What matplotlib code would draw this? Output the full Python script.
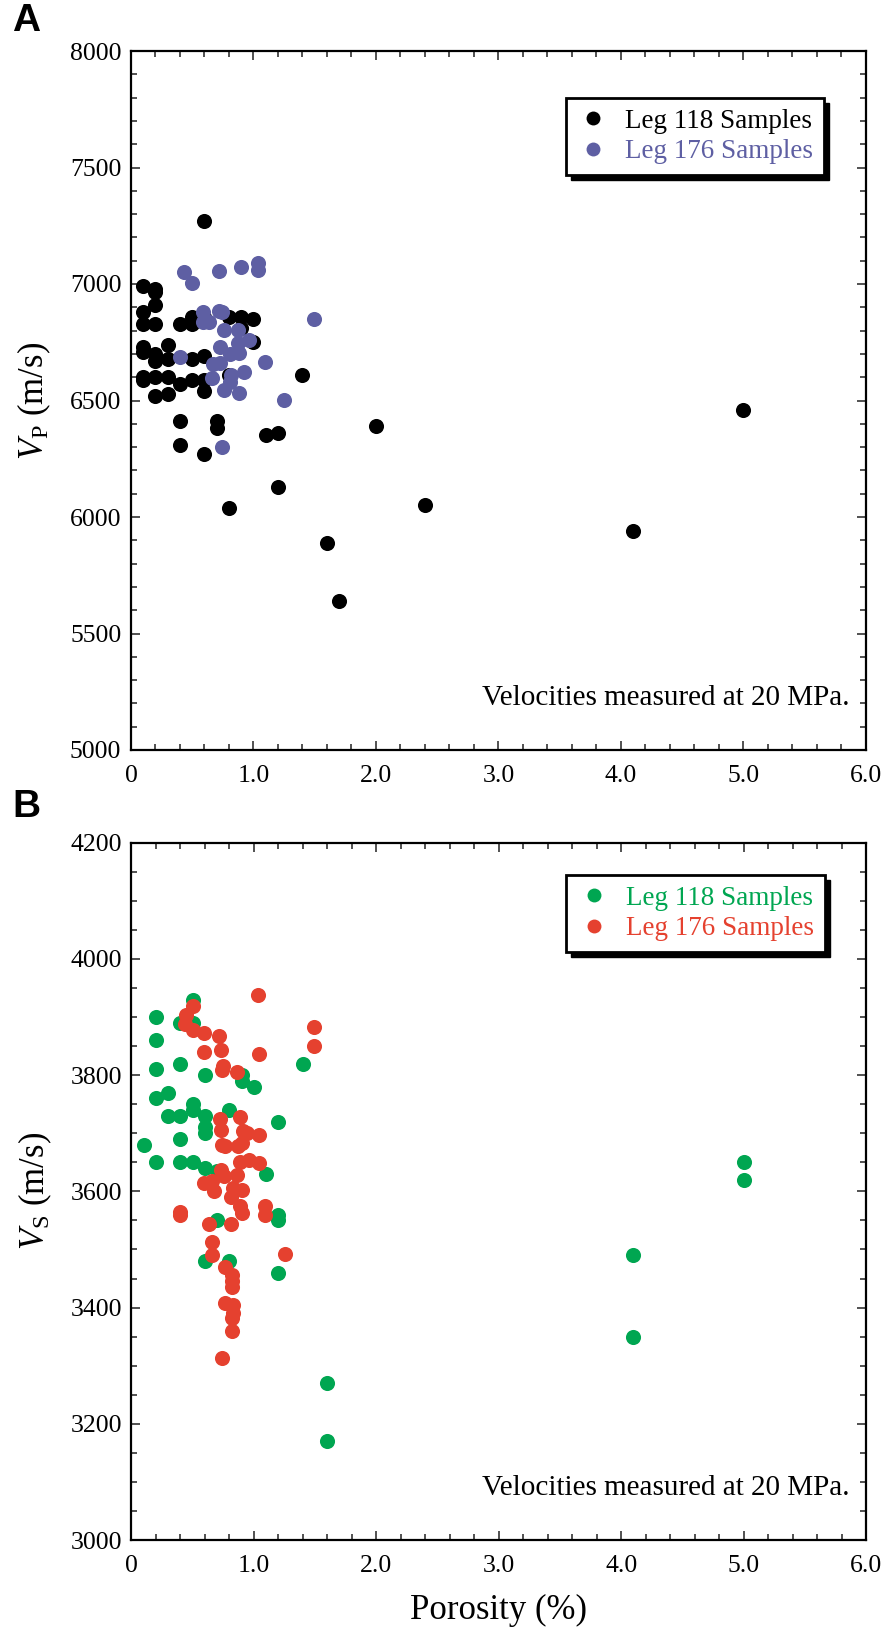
import matplotlib
matplotlib.use("Agg")
import matplotlib.pyplot as plt
from matplotlib.patches import Rectangle
from matplotlib.ticker import MultipleLocator, FixedLocator
from matplotlib.lines import Line2D

plt.rcParams['font.family'] = ['Liberation Serif', 'DejaVu Serif']
plt.rcParams['mathtext.fontset'] = 'custom'
plt.rcParams['mathtext.rm'] = 'Liberation Serif'
plt.rcParams['mathtext.it'] = 'Liberation Serif:italic'

# ---------------- data ----------------
por_118_A = [0.6, 0.1, 0.2, 0.2, 0.2, 0.1, 0.1, 0.2, 0.4, 0.5, 0.5, 0.6, 0.8, 0.9, 1.0, 0.9,
             1.0, 0.1, 0.1, 0.2, 0.2, 0.3, 0.3, 0.5, 0.6, 0.1, 0.1, 1.4, 0.2, 0.3, 0.4, 0.5,
             0.6, 0.6, 0.8, 0.2, 0.3, 0.4, 0.7, 0.7, 1.1, 1.2, 2.0, 0.4, 0.6, 1.2, 0.8, 1.6,
             1.7, 2.4, 4.1, 5.0]
vp_118 = [7270, 6990, 6980, 6965, 6910, 6880, 6830, 6830, 6830, 6860, 6830, 6860, 6860, 6860, 6850, 6810,
          6750, 6730, 6710, 6700, 6670, 6740, 6680, 6680, 6690, 6600, 6590, 6610, 6600, 6600, 6570, 6590,
          6590, 6540, 6610, 6520, 6530, 6410, 6410, 6380, 6350, 6360, 6390, 6310, 6270, 6130, 6040, 5890,
          5640, 6050, 5940, 6460]

por_176_A = [0.43, 0.5, 0.72, 0.9, 1.04, 1.04, 0.59, 0.72, 0.74, 0.59, 0.64, 0.76, 0.87, 0.87, 0.96,
             0.73, 0.81, 0.88, 1.49, 0.4, 0.67, 0.73, 1.09, 0.66, 0.82, 0.92, 0.76, 0.88, 0.81, 1.25, 0.74]
vp_176 = [7050, 7005, 7057, 7075, 7090, 7060, 6880, 6886, 6880, 6838, 6838, 6803, 6803, 6746, 6760,
          6731, 6700, 6703, 6849, 6685, 6655, 6662, 6667, 6597, 6609, 6624, 6545, 6533, 6580, 6502, 6302]

por_118_B = [0.5, 0.2, 0.4, 0.5, 0.2, 0.4, 0.2, 0.6, 0.9, 0.9, 1.0, 1.4, 0.2, 0.3, 0.3, 0.4,
             0.5, 0.5, 0.6, 0.6, 0.6, 0.8, 1.2, 0.1, 0.2, 0.4, 0.5, 0.4, 0.6, 1.1, 0.7, 1.2,
             1.2, 0.7, 0.6, 0.8, 1.2, 1.6, 1.6, 5.0, 5.0, 4.1, 4.1]
vs_118 = [3930, 3900, 3890, 3890, 3860, 3820, 3810, 3800, 3800, 3790, 3780, 3820, 3760, 3770, 3730, 3730,
          3750, 3740, 3730, 3710, 3700, 3740, 3720, 3680, 3650, 3650, 3650, 3690, 3640, 3630, 3635, 3560,
          3550, 3550, 3480, 3480, 3460, 3270, 3170, 3650, 3620, 3490, 3350]

por_176_B = [1.035, 0.505, 0.445, 0.44, 0.5, 0.594, 0.717, 0.73, 0.594, 1.04, 1.49, 1.49, 0.75, 0.74,
             0.86, 0.72, 0.89, 0.73, 0.91, 0.94, 1.04, 0.74, 0.76, 0.87, 0.90, 0.89, 0.96, 1.04,
             0.73, 0.755, 0.86, 0.59, 0.66, 0.67, 0.83, 0.90, 0.81, 0.89, 0.90, 1.09, 1.09, 0.40,
             0.40, 0.635, 0.81, 0.66, 0.66, 1.25, 0.76, 0.82, 0.82, 0.82, 0.76, 0.83, 0.83, 0.82,
             0.82, 0.74]
vs_176 = [3938, 3919, 3903, 3888, 3878, 3872, 3867, 3843, 3839, 3836, 3882, 3850, 3815, 3809,
          3806, 3724, 3728, 3706, 3704, 3700, 3697, 3680, 3678, 3678, 3683, 3651, 3654, 3649,
          3637, 3626, 3628, 3614, 3617, 3601, 3605, 3602, 3590, 3575, 3562, 3575, 3559, 3565,
          3559, 3543, 3543, 3512, 3490, 3492, 3470, 3456, 3445, 3436, 3408, 3404, 3390, 3382,
          3360, 3313]

x_ticks = [0, 1, 2, 3, 4, 5, 6]
x_ticklabels = ['0', '1.0', '2.0', '3.0', '4.0', '5.0', '6.0']
yA_ticks = [5000, 5500, 6000, 6500, 7000, 7500, 8000]
yB_ticks = [3000, 3200, 3400, 3600, 3800, 4000, 4200]

labels_A = ['Leg 118 Samples', 'Leg 176 Samples']
labels_B = ['Leg 118 Samples', 'Leg 176 Samples']
note = 'Velocities measured at 20 MPa.'

# ---------------- style ----------------
c_black = '#000000'
c_blue = '#5E5FA3'
c_green = '#00A651'
c_red = '#E5412F'
msize = 118

W, H = 887, 1627
fig = plt.figure(figsize=(W / 100, H / 100), dpi=100)

axA = fig.add_axes([131 / W, 1 - 750 / H, 735 / W, 699 / H])
axB = fig.add_axes([131.5 / W, 1 - 1540 / H, 734.5 / W, 697.3 / H])


def style_axis(ax, yticks, yminor):
    ax.set_xlim(0, 6)
    ax.set_ylim(yticks[0], yticks[-1])
    ax.xaxis.set_major_locator(FixedLocator(x_ticks))
    ax.set_xticklabels(x_ticklabels)
    ax.xaxis.set_minor_locator(MultipleLocator(0.2))
    ax.yaxis.set_major_locator(FixedLocator(yticks))
    ax.yaxis.set_minor_locator(MultipleLocator(yminor))
    ax.tick_params(which='both', direction='in', top=True, right=True, width=1.1, color='#222222')
    ax.tick_params(which='major', length=6.5, labelsize=18.5, pad=7)
    ax.tick_params(axis='x', which='major', pad=11)
    ax.tick_params(which='minor', length=4)
    for sp in ax.spines.values():
        sp.set_linewidth(1.6)


style_axis(axA, yA_ticks, 100)
style_axis(axB, yB_ticks, 50)

sA1 = axA.scatter(por_118_A, vp_118, s=msize, color=c_black, linewidths=0, zorder=3)
sA2 = axA.scatter(por_176_A, vp_176, s=msize, color=c_blue, linewidths=0, zorder=3)
sB1 = axB.scatter(por_118_B, vs_118, s=msize, color=c_green, linewidths=0, zorder=3)
sB2 = axB.scatter(por_176_B, vs_176, s=msize, color=c_red, linewidths=0, zorder=3)

axA.set_ylabel(r'$V_{\mathrm{P}}$ (m/s)', fontsize=25, labelpad=12)
axB.set_ylabel(r'$V_{\mathrm{S}}$ (m/s)', fontsize=25, labelpad=12)
axB.set_xlabel('Porosity (%)', fontsize=25, labelpad=12)

axA.text(0.977, 0.075, note, transform=axA.transAxes, ha='right', va='center', fontsize=21)
axB.text(0.977, 0.075, note, transform=axB.transAxes, ha='right', va='center', fontsize=21)

fig.text(26 / W, 1 - 21 / H, 'A', fontsize=28, fontweight='bold', family='Liberation Sans',
         ha='center', va='center')
fig.text(26 / W, 1 - 807 / H, 'B', fontsize=28, fontweight='bold', family='Liberation Sans',
         ha='center', va='center')


def make_legend(ax, labels, colors, anchor):
    handles = [Line2D([], [], linestyle='none', marker='o', markersize=10,
                      markerfacecolor=c, markeredgewidth=0) for c in colors]
    leg = ax.legend(handles, labels, loc='upper right', bbox_to_anchor=anchor,
                    frameon=True, fancybox=False, edgecolor='black', framealpha=1,
                    fontsize=19.5, labelcolor=colors, handletextpad=0.6,
                    borderpad=0.4, labelspacing=0.2, handlelength=1.2, borderaxespad=0)
    leg.get_frame().set_linewidth(2.0)
    leg.set_zorder(6)
    return leg


legA = make_legend(axA, labels_A, [c_black, c_blue], (0.943, 0.933))
legB = make_legend(axB, labels_B, [c_green, c_red], (0.944, 0.954))

fig.canvas.draw()
for ax, leg in [(axA, legA), (axB, legB)]:
    bb = leg.get_frame().get_window_extent()
    off = 5
    r = Rectangle((bb.x0 + off, bb.y0 - off), bb.width, bb.height,
                  transform=None, facecolor='black', edgecolor='black', zorder=5.5,
                  clip_on=False)
    ax.add_artist(r)

fig.savefig('out.png', dpi=100)
